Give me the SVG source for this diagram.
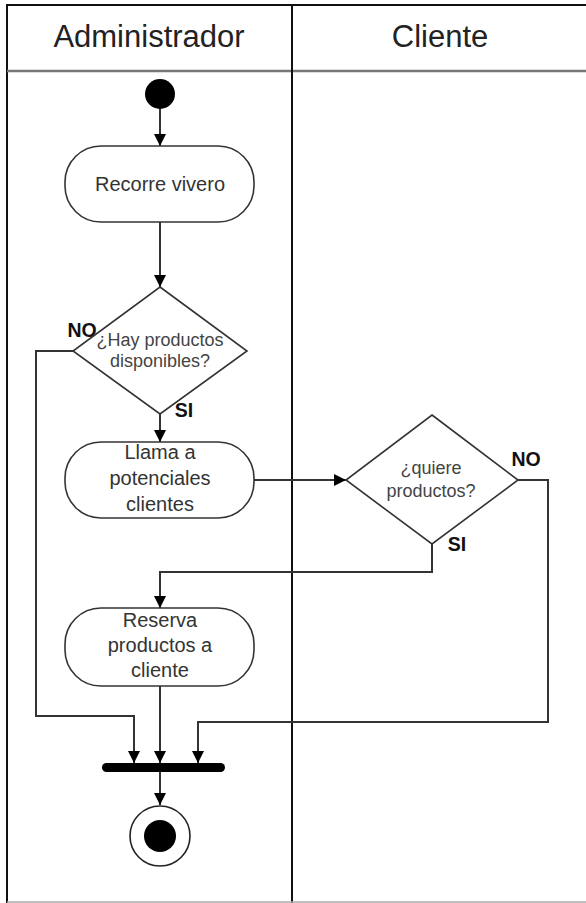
<svg xmlns="http://www.w3.org/2000/svg" width="586" height="903" viewBox="0 0 586 903">
  <style>
    .lane { stroke: #111; stroke-width: 2; fill: none; }
    .sep { stroke: #777; stroke-width: 2.5; fill: none; }
    .hdr { font-family: "Liberation Sans", Arial, sans-serif; font-size: 31px; fill: #222; text-anchor: middle; }
    .act { fill: #fff; stroke: #333; stroke-width: 1.6; }
    .atxt { font-family: "Liberation Sans", Arial, sans-serif; font-size: 20px; fill: #333; text-anchor: middle; }
    .dtxt { font-family: "Liberation Sans", Arial, sans-serif; font-size: 18px; fill: #444; text-anchor: middle; }
    .lbl { font-family: "Liberation Sans", Arial, sans-serif; font-size: 19.5px; font-weight: bold; fill: #111; text-anchor: middle; }
    .conn { stroke: #333; stroke-width: 2; fill: none; }
    .arr { marker-end: url(#head); }
  </style>
  <defs>
    <marker id="head" markerUnits="userSpaceOnUse" markerWidth="14" markerHeight="14" refX="12" refY="6" orient="auto">
      <path d="M0,0 L12,6 L0,12 z" fill="#000"/>
    </marker>
  </defs>

  <rect width="586" height="903" fill="#fff"/>

  <!-- swimlane frame -->
  <g id="swimlanes">
    <line class="lane" x1="6" y1="5" x2="586" y2="5"/>
    <line class="lane" x1="7" y1="5" x2="7" y2="903"/>
    <line class="sep" x1="7" y1="71" x2="586" y2="71"/>
    <line class="lane" x1="292" y1="5" x2="292" y2="903"/>
    <line x1="7" y1="902" x2="586" y2="902" stroke="#aaa" stroke-width="1.5"/>
    <text class="hdr" x="149" y="47">Administrador</text>
    <text class="hdr" x="440" y="47">Cliente</text>
  </g>

  <!-- connectors -->
  <g id="connectors">
    <line class="conn arr" x1="160" y1="108" x2="160" y2="146"/>
    <line class="conn arr" x1="160" y1="222" x2="160" y2="287"/>
    <line class="conn arr" x1="160" y1="414" x2="160" y2="442"/>
    <polyline class="conn arr" points="73,351 36,351 36,716 134,716 134,763"/>
    <line class="conn arr" x1="254" y1="480" x2="346" y2="480"/>
    <polyline class="conn arr" points="432,544 432,572 160,572 160,608"/>
    <polyline class="conn arr" points="518,480 548,480 548,722 198,722 198,763"/>
    <line class="conn arr" x1="160" y1="686" x2="160" y2="763"/>
    <line class="conn arr" x1="160" y1="772" x2="160" y2="805"/>
    <text class="lbl" x="82" y="337">NO</text>
    <text class="lbl" x="184" y="417">SI</text>
    <text class="lbl" x="526" y="466">NO</text>
    <text class="lbl" x="457" y="551">SI</text>
  </g>

  <!-- nodes -->
  <g id="start">
    <circle cx="160" cy="94" r="15" fill="#000"/>
  </g>

  <g id="recorre-vivero">
    <rect class="act" x="65" y="146" width="189" height="76" rx="36"/>
    <text class="atxt" x="160" y="191">Recorre vivero</text>
  </g>

  <g id="hay-productos">
    <polygon class="act" points="160,287 247,351 160,414 73,351"/>
    <text class="dtxt" x="160" y="346">¿Hay productos</text>
    <text class="dtxt" x="160" y="367">disponibles?</text>
  </g>

  <g id="llama-clientes">
    <rect class="act" x="65" y="442" width="189" height="76" rx="36"/>
    <text class="atxt" x="160" y="459">Llama a</text>
    <text class="atxt" x="160" y="485">potenciales</text>
    <text class="atxt" x="160" y="511">clientes</text>
  </g>

  <g id="quiere-productos">
    <polygon class="act" points="432,415 518,480 432,544 346,480"/>
    <text class="dtxt" x="431" y="474">¿quiere</text>
    <text class="dtxt" x="431" y="497">productos?</text>
  </g>

  <g id="reserva-productos">
    <rect class="act" x="65" y="608" width="189" height="78" rx="36"/>
    <text class="atxt" x="160" y="627">Reserva</text>
    <text class="atxt" x="160" y="652">productos a</text>
    <text class="atxt" x="160" y="677">cliente</text>
  </g>

  <g id="join">
    <rect x="102" y="763" width="123" height="9" rx="4.5" fill="#000"/>
  </g>

  <g id="end">
    <circle cx="160" cy="836" r="30" fill="#fff" stroke="#222" stroke-width="1.6"/>
    <circle cx="160" cy="836" r="16" fill="#000"/>
  </g>
</svg>
